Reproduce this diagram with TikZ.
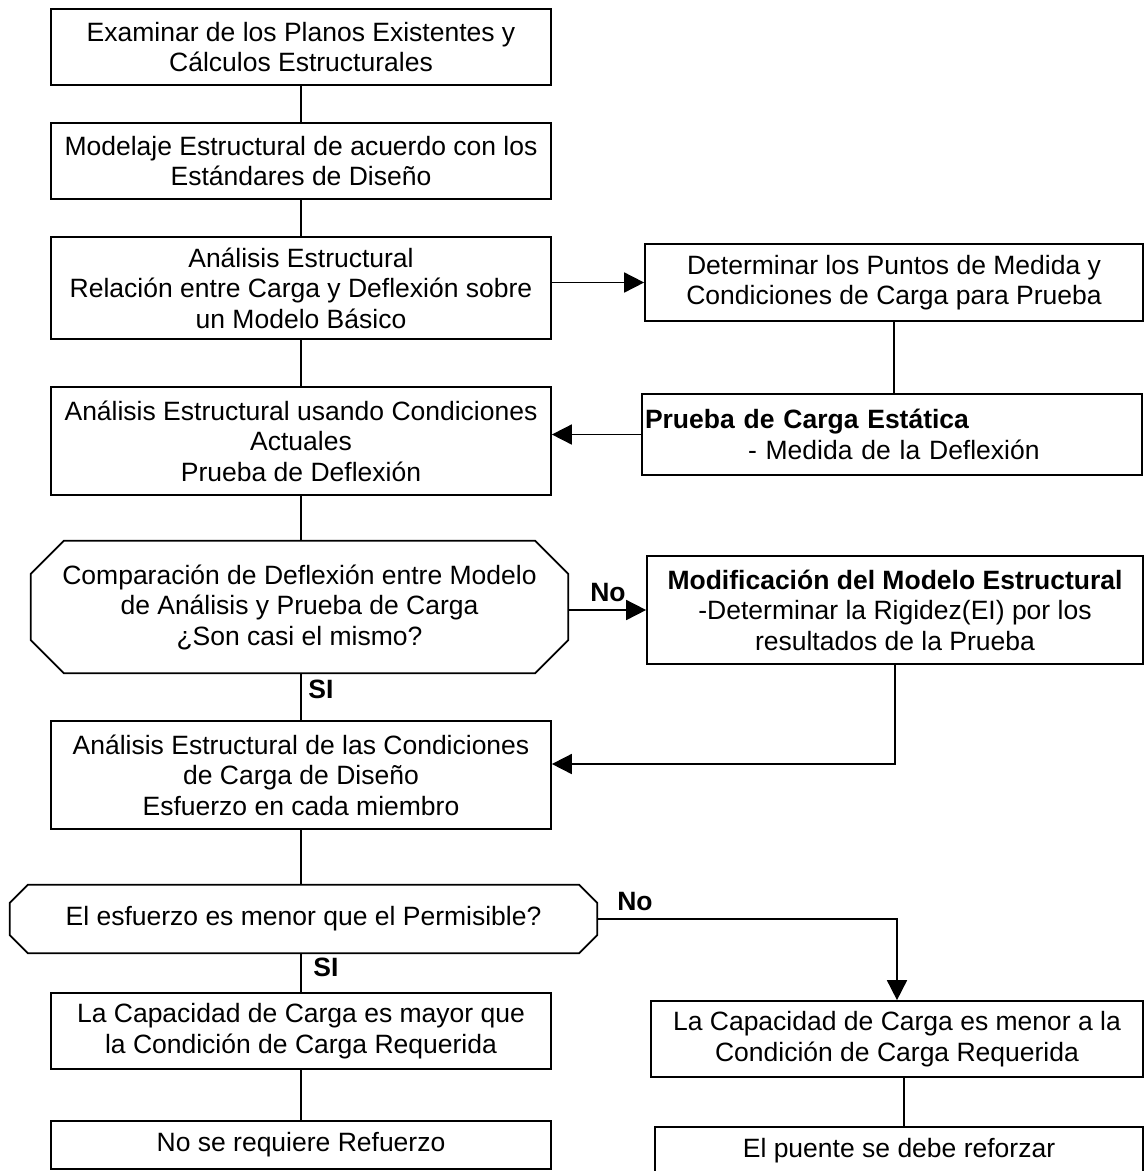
\documentclass[tikz,border=0pt]{standalone}
\usepackage{fontspec}
\setmainfont{Liberation Sans}
\usetikzlibrary{arrows.meta}
\begin{document}
\begin{tikzpicture}[x=1pt,y=-1pt,
  every node/.style={font=\fontsize{26.5}{30.5}\selectfont},
  box/.style={draw,line width=1.7pt,rectangle,align=center,inner sep=0pt},
  frame/.style={rectangle,align=center,inner sep=0pt},
  link/.style={line width=1.7pt},
  arr/.style={line width=1.7pt,-{Triangle[length=20pt,width=20pt]}},
  tag/.style={font=\fontsize{26.5}{30.5}\selectfont\bfseries,inner sep=0pt}]
\useasboundingbox (0,0) rectangle (1145,1171);
\clip (0,0) rectangle (1145,1171);

% left column
\node[box,minimum width=500pt,minimum height=76pt] (b1) at (301,47)
  {Examinar de los Planos Existentes y\\Cálculos Estructurales};
\node[box,minimum width=500pt,minimum height=76pt] (b2) at (301,161)
  {Modelaje Estructural de acuerdo con los\\Estándares de Diseño};
\node[box,minimum width=500pt,minimum height=102pt] (b3) at (301,288)
  {Análisis Estructural\\Relación entre Carga y Deflexión sobre\\un Modelo Básico};
\node[box,minimum width=500pt,minimum height=108pt] (b6) at (301,441)
  {Análisis Estructural usando Condiciones\\Actuales\\Prueba de Deflexión};
\node[frame,minimum width=537pt,minimum height=132pt] (o1) at (299.5,607)
  {Comparación de Deflexión entre Modelo\\de Análisis y Prueba de Carga\\¿Son casi el mismo?};
\node[box,minimum width=500pt,minimum height=108pt] (b8) at (301,775)
  {Análisis Estructural de las Condiciones\\de Carga de Diseño\\Esfuerzo en cada miembro};
\node[frame,minimum width=587pt,minimum height=68pt] (o2) at (303.5,919)
  {El esfuerzo es menor que el Permisible?};
\node[box,minimum width=500pt,minimum height=76pt] (b10) at (301,1031)
  {La Capacidad de Carga es mayor que\\la Condición de Carga Requerida};
\node[box,minimum width=500pt,minimum height=48pt] (b11) at (301,1145)
  {No se requiere Refuerzo};

% right column
\node[box,minimum width=498pt,minimum height=77pt] (b4) at (894,282.5)
  {Determinar los Puntos de Medida y\\Condiciones de Carga para Prueba};
\node[box,minimum width=500pt,minimum height=81pt,align=left,text width=494pt,inner xsep=3pt] (b5) at (892,434.5)
  {\textbf{Prueba de Carga Estática}\\\hspace*{103pt}- Medida de la Deflexión};
\node[box,minimum width=496pt,minimum height=108pt] (b7) at (895,610)
  {\textbf{Modificación del Modelo Estructural}\\-Determinar la Rigidez(EI) por los\\resultados de la Prueba};
\node[box,minimum width=492pt,minimum height=76pt] (b9) at (897,1039)
  {La Capacidad de Carga es menor a la\\Condición de Carga Requerida};
\node[box,minimum width=488pt,minimum height=48pt] (b12) at (899,1151)
  {El puente se debe reforzar};

% decision outlines (octagons)
\draw[link] ([xshift=33pt]o1.north west) -- ([xshift=-33pt]o1.north east)
  -- ([yshift=-33pt]o1.north east) -- ([yshift=33pt]o1.south east)
  -- ([xshift=-33pt]o1.south east) -- ([xshift=33pt]o1.south west)
  -- ([yshift=33pt]o1.south west) -- ([yshift=-33pt]o1.north west) -- cycle;
\draw[link] ([xshift=18pt]o2.north west) -- ([xshift=-18pt]o2.north east)
  -- ([yshift=-18pt]o2.north east) -- ([yshift=18pt]o2.south east)
  -- ([xshift=-18pt]o2.south east) -- ([xshift=18pt]o2.south west)
  -- ([yshift=18pt]o2.south west) -- ([yshift=-18pt]o2.north west) -- cycle;

\coordinate (colR) at (904,0);

% connectors
\draw[link] (b1) -- (b2);
\draw[link] (b2) -- (b3);
\draw[link] (b3) -- (b6);
\draw[link] (b6.south) -- (b6.south |- o1.north);
\draw[link] (b8.north |- o1.south) -- (b8.north);
\draw[link] (b8.south) -- (b8.south |- o2.north);
\draw[link] (b10.north |- o2.south) -- (b10.north);
\draw[link] (b10) -- (b11);
\draw[link] (b4.south) -- (b4.south |- b5.north);
\draw[link] (b9.south -| colR) -- (b12.north -| colR);

\draw[arr] (b3.east |- b4.west) -- (b4.west);
\draw[arr] (b5.west) -- (b5.west -| b6.east);
\draw[arr] (o1.east |- b7.west) -- (b7.west);
\draw[arr] (b7.south) |- ([yshift=11pt]b8.east);
\draw[arr] (o2.east) -| (b9.north);

% branch labels
\node[tag] (no1) at (608,593) {No};
\node[tag] (si1) at (321,689) {SI};
\node[tag] (no2) at (635,902) {No};
\node[tag] (si2) at (326,967) {SI};
\end{tikzpicture}
\end{document}
